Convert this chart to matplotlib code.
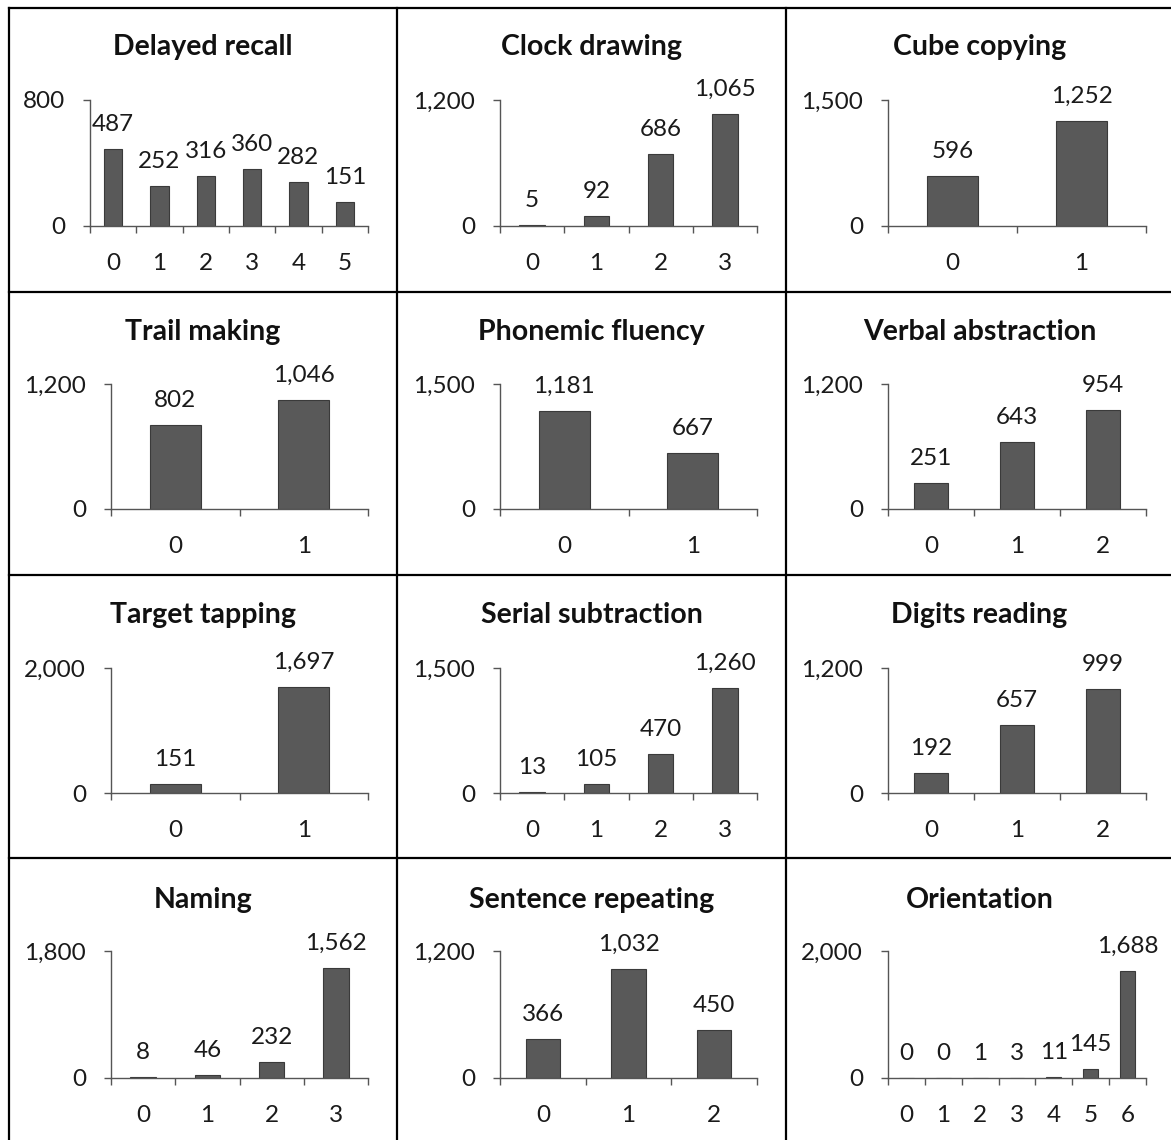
import matplotlib.pyplot as plt
from matplotlib.lines import Line2D

plt.rcParams['font.family'] = ['Lato', 'DejaVu Sans']

titles = [
    "Delayed recall", "Clock drawing", "Cube copying",
    "Trail making", "Phonemic fluency", "Verbal abstraction",
    "Target tapping", "Serial subtraction", "Digits reading",
    "Naming", "Sentence repeating", "Orientation",
]
delayed_recall = [487, 252, 316, 360, 282, 151]
clock_drawing = [5, 92, 686, 1065]
cube_copying = [596, 1252]
trail_making = [802, 1046]
phonemic_fluency = [1181, 667]
verbal_abstraction = [251, 643, 954]
target_tapping = [151, 1697]
serial_subtraction = [13, 105, 470, 1260]
digits_reading = [192, 657, 999]
naming = [8, 46, 232, 1562]
sentence_repeating = [366, 1032, 450]
orientation = [0, 0, 1, 3, 11, 145, 1688]
y_max = [800, 1200, 1500, 1200, 1500, 1200, 2000, 1500, 1200, 1800, 1200, 2000]

series = [delayed_recall, clock_drawing, cube_copying, trail_making,
          phonemic_fluency, verbal_abstraction, target_tapping,
          serial_subtraction, digits_reading, naming, sentence_repeating,
          orientation]

W, H = 1171, 1140
fig = plt.figure(figsize=(W / 100, H / 100), dpi=100)

col_left = [111, 500, 888]
col_right = [368, 757, 1146]
row_top = [100, 384, 668, 951]
row_zero = [226, 509, 793, 1078]
title_y = [47, 332, 615, 900]
cell_x = [9, 397, 786, 1173]
cell_y = [8, 292, 575, 858, 1142]

bar_color = "#595959"
axis_color = "#555555"
text_color = "#1a1a1a"
fs = 17.5

for k, (title, vals, ymax) in enumerate(zip(titles, series, y_max)):
    r, c = divmod(k, 3)
    left = col_left[c] if k != 0 else 90
    ax = fig.add_axes([left / W, 1 - row_zero[r] / H,
                       (col_right[c] - left) / W,
                       (row_zero[r] - row_top[r]) / H])
    n = len(vals)
    x = list(range(n))
    ax.bar(x, vals, width=0.4, color=bar_color, edgecolor="#3a3a3a", linewidth=0.8)
    for xi, v in zip(x, vals):
        ax.annotate(f"{v:,}", (xi, v), xytext=(0, 13), textcoords="offset points",
                    ha="center", va="baseline", fontsize=fs, color=text_color)
    ax.set_xlim(-0.5, n - 0.5)
    ax.set_ylim(0, ymax)
    ax.set_yticks([0, ymax])
    ax.set_yticklabels(["0", f"{ymax:,}"])
    ax.set_xticks(x)
    ax.set_xticklabels([str(i) for i in x])
    ax.set_xticks([i - 0.5 for i in range(n + 1)], minor=True)
    ax.tick_params(axis="x", which="major", length=0, pad=19.5, labelsize=fs, colors=text_color)
    ax.tick_params(axis="x", which="minor", length=5, width=1, color=axis_color, direction="out")
    ax.tick_params(axis="y", length=5, width=1, color=axis_color, pad=13,
                   labelsize=fs, labelcolor=text_color)
    for s in ("top", "right"):
        ax.spines[s].set_visible(False)
    for s in ("left", "bottom"):
        ax.spines[s].set_color(axis_color)
        ax.spines[s].set_linewidth(1)
    ax.patch.set_alpha(0)

    cx = (cell_x[c] + cell_x[c + 1]) / 2
    fig.text(cx / W, 1 - title_y[r] / H, title, ha="center", va="center",
             fontsize=20.5, fontweight="bold", color="#111111")

# cell borders
for xp in cell_x:
    fig.add_artist(Line2D([xp / W, xp / W], [0, 1 - cell_y[0] / H],
                          color="black", linewidth=1.6))
for yp in cell_y:
    fig.add_artist(Line2D([cell_x[0] / W, 1], [1 - yp / H, 1 - yp / H],
                          color="black", linewidth=1.6))

fig.savefig("out.png", dpi=100, facecolor="white")
